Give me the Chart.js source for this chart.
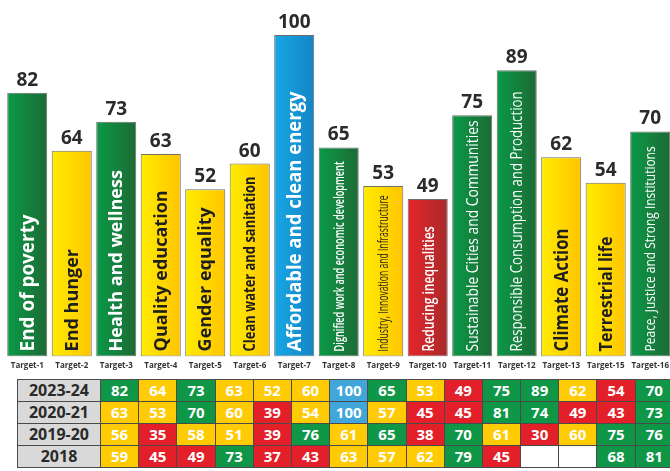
<!DOCTYPE html>
<html>
<head>
<meta charset="utf-8">
<script src="https://cdn.jsdelivr.net/npm/chart.js@4"></script>
<style>
    html, body { margin: 0; padding: 0; background: #fff; overflow: hidden; }
    #wrap { position: relative; width: 674px; height: 471px; }
    #chart { position: absolute; left: 0; top: 0; }
    #scores {
        position: absolute; left: 17px; top: 379px;
        border-collapse: collapse; table-layout: fixed; width: 657px;
        font-family: "Open Sans", sans-serif; font-weight: bold;
    }
    #scores td {
        border: 1px solid #4a4a4a; height: 21px; padding: 0;
        text-align: center; font-size: 15px; color: #fff; line-height: 21px;
    }
    #scores td.year { background: #d9d9d9; color: #2a2a2a; font-size: 16px; width: 82px; }
</style>
</head>
<body>
<div id="wrap">
    <canvas id="chart" width="674" height="376"></canvas>
    <table id="scores"></table>
</div>
<script>
// dati del grafico
const targets = ['Target-1', 'Target-2', 'Target-3', 'Target-4', 'Target-5', 'Target-6', 'Target-7', 'Target-8',
    'Target-9', 'Target-10', 'Target-11', 'Target-12', 'Target-13', 'Target-15', 'Target-16'];
const goals = ['End of poverty', 'End hunger', 'Health and wellness', 'Quality education', 'Gender equality',
    'Clean water and sanitation', 'Affordable and clean energy', 'Dignified work and economic development',
    'Industry, Innovation and Infrastructure', 'Reducing inequalities', 'Sustainable Cities and Communities',
    'Responsible Consumption and Production', 'Climate Action', 'Terrestrial life', 'Peace, Justice and Strong Institutions'];
const years = ['2023-24', '2020-21', '2019-20', '2018'];
const score2023 = [82, 64, 73, 63, 52, 60, 100, 65, 53, 49, 75, 89, 62, 54, 70];
const score2020 = [63, 53, 70, 60, 39, 54, 100, 57, 45, 45, 81, 74, 49, 43, 73];
const score2019 = [56, 35, 58, 51, 39, 76, 61, 65, 38, 70, 61, 30, 60, 75, 76];
const score2018 = [59, 45, 49, 73, 37, 43, 63, 57, 62, 79, 45, null, null, 68, 81];
// in tabella la cella 2023-24 / Target-15 e' segnata come "aspirant"
const tableStatusOverride = { '2023-24|Target-15': 'aspirant' };

function status(v) {
    if (v === null || v === undefined) return 'none';
    if (v >= 100) return 'achiever';
    if (v >= 65) return 'front';
    if (v >= 50) return 'performer';
    return 'aspirant';
}

const barGrad = {
    achiever: ['#17a8e6', '#1584c4'],
    front: ['#0a9a48', '#1d6a34'],
    performer: ['#ffec00', '#ffc400'],
    aspirant: ['#e5262b', '#a82a2a']
};
const cellColor = {
    achiever: '#41a7da', front: '#0f9647', performer: '#ffcb05', aspirant: '#e3202a', none: '#ffffff'
};

// stile del testo dentro le barre
const inBar = [
    { size: 19, w: 'bold', len: 137 }, { size: 18, w: 'bold', len: 105 }, { size: 18, w: 'bold', len: 183 },
    { size: 18, w: 'bold', len: 165 }, { size: 18, w: 'bold', len: 147 }, { size: 16, w: 'bold', len: 175 },
    { size: 20, w: 'bold', len: 260 }, { size: 15, w: '600', len: 190 }, { size: 15, w: 'normal', len: 156 },
    { size: 17, w: '600', len: 125 }, { size: 17, w: 'normal', len: 231 }, { size: 16, w: 'normal', len: 260 },
    { size: 19, w: 'bold', len: 123 }, { size: 18, w: 'bold', len: 115 }, { size: 15, w: 'normal', len: 205 }
];

const barLabels = {
    id: 'barLabels',
    afterDatasetsDraw(chart) {
        const ctx = chart.ctx;
        const meta = chart.getDatasetMeta(0);
        meta.data.forEach((bar, i) => {
            const v = score2023[i];
            // valore sopra la barra
            ctx.save();
            ctx.font = 'bold 19px "Open Sans", sans-serif';
            ctx.fillStyle = '#2b2b2b';
            ctx.textAlign = 'center';
            ctx.textBaseline = 'alphabetic';
            ctx.fillText(String(v), bar.x, bar.y - 7);
            ctx.restore();

            // nome dell'obiettivo ruotato
            const st = inBar[i];
            ctx.save();
            ctx.font = st.w + ' ' + st.size + 'px "Open Sans", sans-serif';
            ctx.fillStyle = status(v) === 'performer' ? '#1e1e1e' : '#ffffff';
            ctx.textAlign = 'left';
            ctx.textBaseline = 'middle';
            const w = ctx.measureText(goals[i]).width;
            ctx.translate(bar.x + 1, bar.base - 5);
            ctx.rotate(-Math.PI / 2);
            ctx.scale(Math.min(1, st.len / w), 1);
            ctx.fillText(goals[i], 0, 0);
            ctx.restore();
        });
    }
};

function gradientFor(context) {
    const chart = context.chart;
    const s = status(score2023[context.dataIndex]);
    const cols = barGrad[s];
    if (!chart.chartArea) return cols[0];
    const x = chart.scales.x.getPixelForValue(context.dataIndex);
    const g = chart.ctx.createLinearGradient(x - 20, 0, x + 20, 0);
    g.addColorStop(0, cols[0]);
    g.addColorStop(1, cols[1]);
    return g;
}

function creaGrafico() {
    new Chart(document.getElementById('chart').getContext('2d'), {
        type: 'bar',
        data: {
            labels: targets,
            datasets: [{
                label: '2023-24',
                data: score2023,
                backgroundColor: gradientFor,
                borderColor: '#6f6f6f',
                borderWidth: 1,
                borderSkipped: false,
                barPercentage: 0.9,
                categoryPercentage: 1
            }]
        },
        options: {
            responsive: false,
            animation: false,
            layout: { padding: { top: 35, left: 5, right: 1, bottom: 0 } },
            plugins: { legend: { display: false }, tooltip: { enabled: false } },
            scales: {
                x: {
                    grid: { display: false, drawTicks: false },
                    border: { display: false },
                    ticks: {
                        padding: 5,
                        color: '#333',
                        font: { family: '"Open Sans", sans-serif', size: 8, weight: 'bold' },
                        maxRotation: 0,
                        autoSkip: false
                    }
                },
                y: { display: false, min: 0, max: 100 }
            }
        },
        plugins: [barLabels]
    });
}

function creaTabella() {
    const table = document.getElementById('scores');
    const rows = [score2023, score2020, score2019, score2018];
    rows.forEach((vals, r) => {
        const tr = document.createElement('tr');
        const th = document.createElement('td');
        th.className = 'year';
        th.textContent = years[r];
        tr.appendChild(th);
        vals.forEach((v, c) => {
            const td = document.createElement('td');
            const s = tableStatusOverride[years[r] + '|' + targets[c]] || status(v);
            td.style.background = cellColor[s];
            td.textContent = v === null ? '' : v;
            tr.appendChild(td);
        });
        table.appendChild(tr);
    });
}

document.addEventListener('DOMContentLoaded', () => {
    creaGrafico();
    creaTabella();
});
</script>
</body>
</html>
